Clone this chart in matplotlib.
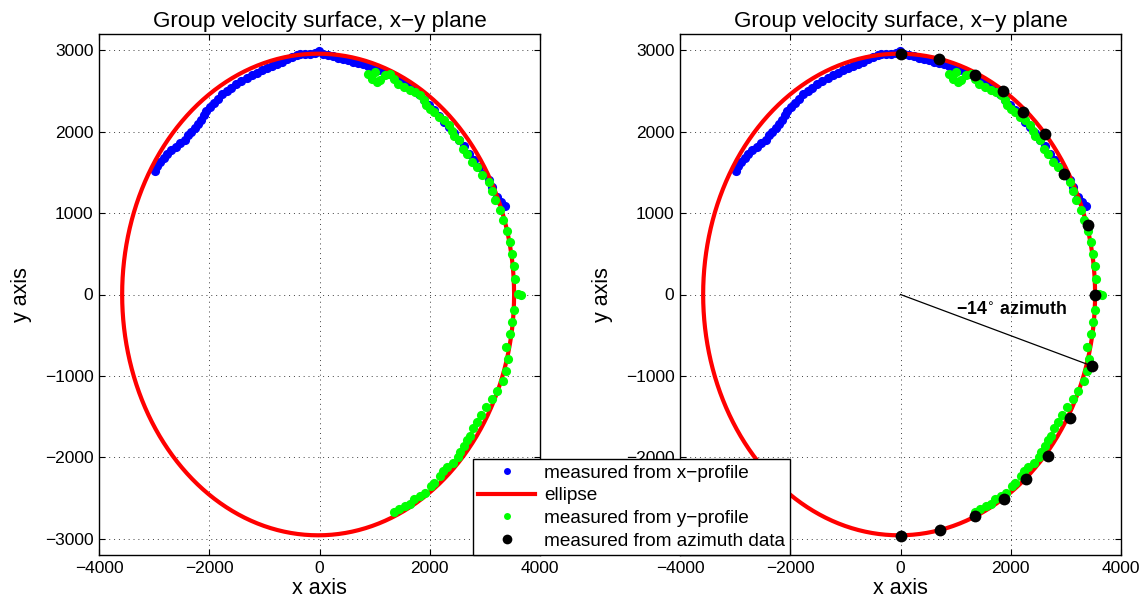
import matplotlib

matplotlib.use("Agg")
import matplotlib.pyplot as plt
import numpy as np
from matplotlib.lines import Line2D

plt.rcParams["font.family"] = ["Liberation Sans", "DejaVu Sans"]

# fitted ellipse (semi-axes and centre offset)
ELLIPSE_A = 3555
ELLIPSE_B = 2958
ELLIPSE_X0 = -25

# measured from x-profile (blue)
blue_x = [
    -2991, -2948, -2888, -2827, -2767, -2694, -2609, -2524, -2445, -2385,
    -2324, -2264, -2203, -2142, -2094, -2051, -1991, -1918, -1839, -1761,
    -1676, -1597, -1506, -1415, -1324, -1233, -1142, -1051, -960, -869,
    -778, -687, -596, -505, -415, -355,
    -264, -173, -82, -3, 70, 161, 252, 343, 433, 524, 615, 706, 797, 888,
    979, 1070, 1161, 1252, 1343, 1433, 1524, 1615, 1706, 1797, 1888, 1979,
    2070, 2161, 2252, 2343, 2433, 2524, 2615, 2706, 2797, 2888, 2979, 3070,
    3125, 3226, 3293, 3360,
]
blue_y = [
    1516, 1574, 1627, 1681, 1721, 1771, 1811, 1861, 1902, 1955,
    1996, 2049, 2098, 2148, 2201, 2254, 2303, 2352, 2406, 2459,
    2500, 2541, 2582, 2623, 2660, 2693, 2726, 2754, 2783, 2808,
    2837, 2861, 2889, 2918, 2939, 2951,
    2955, 2959, 2963, 2988, 2951, 2939, 2926, 2910, 2893, 2877, 2861, 2844, 2828, 2808,
    2787, 2763, 2734, 2705, 2672, 2640, 2603, 2562, 2508, 2459, 2394, 2324,
    2262, 2189, 2119, 2057, 1983, 1902, 1820, 1730, 1648, 1565, 1484, 1410,
    1317, 1194, 1132, 1091,
]

# measured from y-profile (green)
green_x = [
    888, 1009, 948, 1040, 1100, 1191, 1270, 1343, 1415, 1524, 1645, 1736,
    1827, 1888, 1936, 2009, 2082, 2160, 2251, 2342, 2403, 2433, 2524, 2603,
    2676, 2767, 2858, 2949, 3072, 3125, 3192, 3273, 3327, 3407, 3447, 3494,
    3528, 3548, 3595, 3648,
    3528, 3501, 3447, 3380, 3427, 3380, 3327, 3226, 3125, 3025, 2924, 2857,
    2790, 2736, 2669, 2622, 2555, 2508, 2421, 2321, 2240, 2186, 2086, 2019,
    1918, 1818, 1717, 1650, 1549, 1449, 1348,
]
green_y = [
    2713, 2734, 2652, 2611, 2631, 2693, 2713, 2652, 2590, 2549, 2516, 2488,
    2447, 2385, 2324, 2283, 2242, 2180, 2139, 2078, 2008, 1943, 1893, 1791,
    1730, 1627, 1565, 1463, 1379, 1276, 1161, 1038, 919, 784, 640, 497,
    353, 189, 4, -4,
    -195, -339, -483, -639, -791, -943, -1058, -1181, -1283, -1378, -1481, -1571,
    -1645, -1735, -1789, -1862, -1940, -2002, -2064, -2125, -2166, -2228, -2310, -2351,
    -2433, -2474, -2515, -2577, -2597, -2639, -2667,
]

# measured from azimuth data (black, right panel only)
azim_x = [0, 703, 1345, 1861, 2218, 2630, 2964, 3394, 3532,
          3480, 3067, 2667, 2282, 1879, 1351, 709, 0]
azim_y = [2960, 2893, 2701, 2496, 2242, 1971, 1475, 848, 0,
          -880, -1516, -1988, -2266, -2512, -2717, -2890, -2971]

# highlighted azimuth ray (-14 degrees)
ray_x = [0, 3480]
ray_y = [0, -880]

x_ticks = [-4000, -2000, 0, 2000, 4000]
y_ticks = [-3000, -2000, -1000, 0, 1000, 2000, 3000]

BLUE = "#0000ff"
GREEN = "#00ff00"
RED = "#ff0000"


def ellipse_curve():
    t = np.linspace(0, 2 * np.pi, 721)
    return ELLIPSE_X0 + ELLIPSE_A * np.cos(t), ELLIPSE_B * np.sin(t)


def style_axes(ax):
    ax.set_xlim(-4000, 4000)
    ax.set_ylim(-3200, 3200)
    ax.set_xticks(x_ticks)
    ax.set_yticks(y_ticks)
    ax.tick_params(direction="in", top=True, right=True, length=4,
                   width=0.8, labelsize=12.5, pad=4)
    ax.grid(True, linestyle=(0, (1, 4)), color="0.25", linewidth=0.7)
    for spine in ax.spines.values():
        spine.set_linewidth(1.0)
    ax.set_title("Group velocity surface, x\u2212y plane", fontsize=16.2, pad=5)
    ax.set_xlabel("x axis", fontsize=15.5, labelpad=2)
    ax.set_ylabel("y axis", fontsize=15.5, labelpad=9)


fig = plt.figure(figsize=(11.45, 5.98), dpi=100)
ax1 = fig.add_axes([99 / 1145, 1 - 555 / 598, 441 / 1145, 521 / 598])
ax2 = fig.add_axes([680 / 1145, 1 - 555 / 598, 441 / 1145, 521 / 598])

ex, ey = ellipse_curve()
for ax in (ax1, ax2):
    ax.plot(blue_x, blue_y, "o", color=BLUE, markersize=6.6, markeredgewidth=0, zorder=3)
    ax.plot(ex, ey, "-", color=RED, linewidth=3.0, zorder=4)
    ax.plot(green_x, green_y, "o", color=GREEN, markersize=6.6, markeredgewidth=0, zorder=5)
    style_axes(ax)

ax2.plot(ray_x, ray_y, "-", color="black", linewidth=0.9, zorder=6)
ax2.plot(azim_x, azim_y, "o", color="black", markersize=8.5, markeredgewidth=0, zorder=7)
ax2.text(1000, -190, "\u221214$^{\\circ}$ azimuth", fontsize=12.8, fontweight="bold",
         ha="left", va="center", zorder=8)

handles = [
    Line2D([], [], linestyle="none", marker="o", color=BLUE, markersize=5, markeredgewidth=0),
    Line2D([], [], linestyle="-", color=RED, linewidth=3.0),
    Line2D([], [], linestyle="none", marker="o", color=GREEN, markersize=5, markeredgewidth=0),
    Line2D([], [], linestyle="none", marker="o", color="black", markersize=7, markeredgewidth=0),
]
labels = [
    "measured from x\u2212profile",
    "ellipse",
    "measured from y\u2212profile",
    "measured from azimuth data",
]
leg = fig.legend(handles, labels, loc="upper left",
                 bbox_to_anchor=(473 / 1145, 1 - 459 / 598),
                 borderaxespad=0, fontsize=13.7, fancybox=False, shadow=False,
                 framealpha=1, edgecolor="black", borderpad=0.28,
                 handlelength=3.0, handletextpad=0.45, labelspacing=0.28)
leg.get_frame().set_linewidth(1.0)
leg.set_zorder(10)

fig.savefig("out.png", dpi=100, facecolor="white")
